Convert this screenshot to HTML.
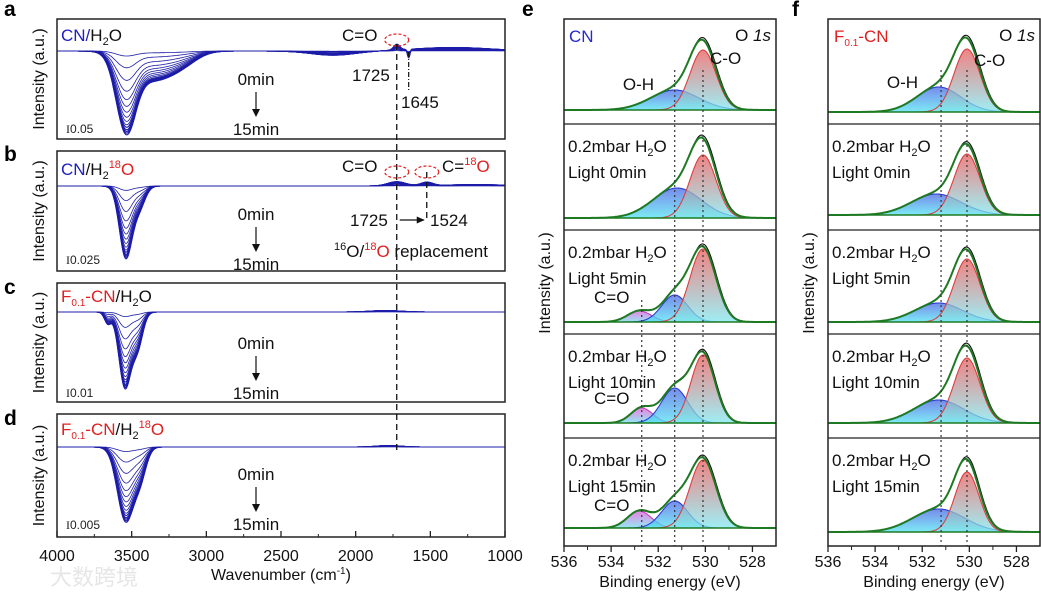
<!DOCTYPE html>
<html><head><meta charset="utf-8"><style>
html,body{margin:0;padding:0;background:#fff}
svg{display:block;font-family:"Liberation Sans","Noto Sans CJK SC",sans-serif}
.t{font-size:17px;fill:#111}
.tk{font-size:16px;fill:#111}
.pl{font-size:21px;font-weight:bold;fill:#000}
.sb{font-size:12px;fill:#222}
</style></head><body>
<svg id="fig" width="1041" height="592" viewBox="0 0 1041 592">
<defs>
<linearGradient id="gRed" x1="0" y1="0" x2="0" y2="1"><stop offset="0" stop-color="#ec5a5a"/><stop offset="1" stop-color="#7ee8f0"/></linearGradient>
<linearGradient id="gBlue" x1="0" y1="0" x2="0" y2="1"><stop offset="0" stop-color="#4a64e6"/><stop offset="1" stop-color="#50e4f2"/></linearGradient>
<linearGradient id="gMag" x1="0" y1="0" x2="0" y2="1"><stop offset="0" stop-color="#e45ad8"/><stop offset="1" stop-color="#70e0f0"/></linearGradient>
</defs>
<g id="ftir"></g>
<g id="xps"></g>
<g id="txt">
<text class="pl" x="4" y="16">a</text>
<text class="pl" x="4" y="161">b</text>
<text class="pl" x="4" y="294">c</text>
<text class="pl" x="4" y="425">d</text>
<text class="pl" x="522" y="16">e</text>
<text class="pl" x="792" y="16">f</text>

<text class="t" x="61" y="41"><tspan fill="#2020c0">CN/</tspan>H<tspan font-size="11" dy="4">2</tspan><tspan dy="-4">O</tspan></text>
<text class="t" x="61" y="175"><tspan fill="#2020c0">CN</tspan>/H<tspan font-size="11" dy="4">2</tspan><tspan font-size="11" dy="-11" fill="#e02020">18</tspan><tspan dy="7" fill="#e02020">O</tspan></text>
<text class="t" x="61" y="302"><tspan fill="#e02020">F</tspan><tspan font-size="10" dy="4" fill="#e02020">0.1</tspan><tspan dy="-4" fill="#e02020">-CN</tspan>/H<tspan font-size="11" dy="4">2</tspan><tspan dy="-4">O</tspan></text>
<text class="t" x="61" y="435"><tspan fill="#e02020">F</tspan><tspan font-size="10" dy="4" fill="#e02020">0.1</tspan><tspan dy="-4" fill="#e02020">-CN</tspan>/H<tspan font-size="11" dy="4">2</tspan><tspan font-size="11" dy="-11" fill="#e02020">18</tspan><tspan dy="7" fill="#e02020">O</tspan></text>

<text class="t" x="342" y="41">C=O</text>
<text class="t" x="352" y="81">1725</text>
<text class="t" x="401" y="108">1645</text>
<text class="t" x="342" y="172">C=O</text>
<text class="t" x="442" y="172">C=<tspan font-size="11" dy="-7" fill="#e02020">18</tspan><tspan dy="7" fill="#e02020">O</tspan></text>
<text class="t" x="350" y="226">1725</text>
<text class="t" x="430" y="226">1524</text>
<text class="t" x="334" y="257"><tspan font-size="11" dy="-7">16</tspan><tspan dy="7">O/</tspan><tspan font-size="11" dy="-7" fill="#e02020">18</tspan><tspan dy="7" fill="#e02020">O</tspan> replacement</text>

<text class="sb" x="66" y="133"><tspan font-family="Liberation Serif">I</tspan>0.05</text>
<text class="sb" x="66" y="264"><tspan font-family="Liberation Serif">I</tspan>0.025</text>
<text class="sb" x="66" y="397"><tspan font-family="Liberation Serif">I</tspan>0.01</text>
<text class="sb" x="66" y="529"><tspan font-family="Liberation Serif">I</tspan>0.005</text>

<text class="tk" x="281" y="580" text-anchor="middle">Wavenumber (cm<tspan font-size="10" dy="-6">-1</tspan><tspan dy="6">)</tspan></text>
<text class="tk" x="670" y="587" text-anchor="middle">Binding energy (eV)</text>
<text class="tk" x="934" y="587" text-anchor="middle">Binding energy (eV)</text>
<text class="tk" transform="translate(550,283) rotate(-90)" text-anchor="middle">Intensity (a.u.)</text>
<text class="tk" transform="translate(814,283) rotate(-90)" text-anchor="middle">Intensity (a.u.)</text>
<text x="50" y="585" font-size="22" fill="#e6e6e6" font-family="Noto Sans CJK SC,sans-serif">大数跨境</text>
</g>
</svg>
<script>
// ===== FTIR data =====
const wnMin = 1000, wnMax = 4000;
const ftirTicks = [4000, 3500, 3000, 2500, 2000, 1500, 1000];
const curveFactors = [0.06, 0.2, 0.35, 0.48, 0.58, 0.66, 0.73, 0.79, 0.84, 0.88, 0.91, 0.94, 0.96, 0.98, 1.0];
const compsA = [[3540, 65, -1], [3360, 140, -0.4], [3150, 100, -0.12], [2150, 150, -0.06], [1725, 20, 0.08], [1645, 8, -0.12], [1350, 250, 0.05]];
const compsB = [[3540, 42, -1], [3450, 40, -0.3], [1725, 60, 0.06], [1524, 40, 0.05], [1200, 200, 0.02]];
const compsC = [[3545, 40, -1], [3460, 35, -0.45], [3660, 22, -0.15], [1800, 100, 0.02]];
const compsD = [[3540, 55, -1], [3440, 40, -0.35], [1780, 80, 0.02]];
const ftirDepth = [71, 71, 75, 74];
const ftirComps = [compsA, compsB, compsC, compsD];
const ftirTexts = [["0min", "15min"], ["0min", "15min"], ["0min", "15min"], ["0min", "15min"]];

// ===== XPS data =====
const beMin = 527, beMax = 536;
const xpsTicks = [536, 534, 532, 530, 528];
const xpsE = [
  [[530.1, 1.3, 60], [531.3, 2.4, 20]],
  [[530.1, 1.3, 63], [531.2, 2.4, 30]],
  [[530.1, 1.3, 73], [531.3, 1.3, 27], [532.8, 1.2, 11]],
  [[530.1, 1.2, 68], [531.3, 1.3, 35], [532.7, 1.1, 15]],
  [[530.1, 1.3, 68], [531.3, 1.3, 27], [532.8, 1.2, 17]]
];
const xpsF = [
  [[530.1, 1.3, 63], [531.3, 2.2, 25]],
  [[530.1, 1.3, 61], [531.4, 2.5, 21]],
  [[530.1, 1.3, 63], [531.3, 2.4, 19]],
  [[530.1, 1.3, 65], [531.3, 2.5, 23]],
  [[530.1, 1.2, 60], [531.3, 2.6, 23]]
];
const xpsEDots = [531.3, 530.1, 532.7];
const xpsFDots = [531.2, 530.1];
const rowLabels = ["", "Light 0min", "Light 5min", "Light 10min", "Light 15min"];

const NS = "http://www.w3.org/2000/svg";
function mk(tag, attrs, parent) {
  const e = document.createElementNS(NS, tag);
  for (const k in attrs) e.setAttribute(k, attrs[k]);
  parent.appendChild(e); return e;
}
function txt(parent, x, y, s, cls, anchor) {
  const t = mk("text", {x: x, y: y, class: cls || "t"}, parent);
  if (anchor) t.setAttribute("text-anchor", anchor);
  t.textContent = s; return t;
}

const fg = document.getElementById("ftir");
const fx0 = 57, fx1 = 505;
const xL = w => fx0 + (wnMax - w) / (wnMax - wnMin) * (fx1 - fx0);
const ftirBoxes = [[19, 139, 51], [151, 271, 186], [283, 402, 312], [414, 537, 447]];
ftirBoxes.forEach((b, i) => {
  const [top, bot, base] = b;
  const g = mk("g", {}, fg);
  
  
  const lab = mk("text", {class: "tk", transform: `translate(44,${(top + bot) / 2}) rotate(-90)`, "text-anchor": "middle"}, g);
  lab.textContent = "Intensity (a.u.)";
  
  
  const comps = ftirComps[i];
  curveFactors.forEach((f, ci) => {
    let d = "";
    for (let w = wnMax; w >= wnMin; w -= 4) {
      let v = 0;
      comps.forEach(c => { v += c[2] * Math.exp(-0.5 * ((w - c[0]) / c[1]) ** 2); });
      const y = base - v * f * ftirDepth[i];
      d += (d ? "L" : "M") + xL(w).toFixed(1) + "," + y.toFixed(1);
    }
    const p = mk("path", {d: d, fill: "none", stroke: "#1c1ca8", "stroke-width": ci > 9 ? 1.1 : 0.8}, g);
    
    
  });
  const r = mk("rect", {x: fx0, y: top, width: fx1 - fx0, height: bot - top, fill: "none", stroke: "#222", "stroke-width": 1.5}, g);
  
  
  const ay0 = top + (i === 1 ? 74 : 71), ay1 = ay0 + 27;
  txt(g, 256, ay0 - 5, ftirTexts[i][0], "t", "middle");
  mk("line", {x1: 256, y1: ay0 + 2, x2: 256, y2: ay1 - 2, stroke: "#111", "stroke-width": 1.2}, g);
  mk("path", {d: `M252,${ay1 - 8} L256,${ay1} L260,${ay1 - 8}Z`, fill: "#111"}, g);
  txt(g, 256, ay1 + 18, ftirTexts[i][1], "t", "middle");
});
ftirTicks.forEach(w => {
  mk("line", {x1: xL(w), y1: 537, x2: xL(w), y2: 531, stroke: "#222", "stroke-width": 1.3}, fg);
  const t = txt(fg, xL(w), 561, String(w), "tk", "middle");
  
  
});
for (let w = 3750; w > 1000; w -= 500) mk("line", {x1: xL(w), y1: 537, x2: xL(w), y2: 534, stroke: "#222", "stroke-width": 1}, fg);
mk("line", {x1: xL(1725), y1: 44, x2: xL(1725), y2: 450, stroke: "#111", "stroke-width": 1.3, "stroke-dasharray": "6,4"}, fg);
mk("line", {x1: xL(1645), y1: 52, x2: xL(1645), y2: 92, stroke: "#111", "stroke-width": 1.2, "stroke-dasharray": "5,2,1,2"}, fg);
mk("line", {x1: xL(1524), y1: 172, x2: xL(1524), y2: 222, stroke: "#111", "stroke-width": 1.3, "stroke-dasharray": "6,4"}, fg);
mk("line", {x1: xL(1725) + 3, y1: 220, x2: xL(1524) - 3, y2: 220, stroke: "#111", "stroke-width": 1.2}, fg);
mk("path", {d: `M${xL(1524) - 2},220 l-8,-3.5 l0,7z`, fill: "#111"}, fg);
[[1725, 40], [1725, 172], [1524, 172]].forEach((e, k) => {
  const el = mk("ellipse", {cx: xL(e[0]), cy: e[1], rx: 12, ry: 6, fill: "none", stroke: "#e02020", "stroke-width": 1.2, "stroke-dasharray": "3,2"}, fg);
  
  
});

const xg = document.getElementById("xps");
const rowTops = [19, 124, 230, 334, 438, 546];
const eBase = [110, 218, 322, 423, 528];
const fBase = [112, 215, 322, 423, 532];
function gauss(x, c) { const s = c[1] / 2.3548; return c[2] * Math.exp(-0.5 * ((x - c[0]) / s) ** 2); }
function xpsPanel(x0, x1, data, bases, dots, name, top1Label) {
  const xB = b => x0 + (beMax - b) / (beMax - beMin) * (x1 - x0);
  const g = mk("g", {}, xg);
  
  
  data.forEach((row, ri) => {
    const base = bases[ri];
    const fills = ["url(#gRed)", "url(#gBlue)", "url(#gMag)"];
    const strokes = ["#d84040", "#2a3ed0", "#c040c0"];
    [2, 1, 0].forEach(k => {
      if (!row[k]) return;
      let d = "";
      for (let b = beMax; b >= beMin; b -= 0.04) {
        const y = base - gauss(b, row[k]);
        d += (d ? "L" : "M") + xB(b).toFixed(1) + "," + y.toFixed(1);
      }
      const a = mk("path", {d: d + `L${x1},${base}L${x0},${base}Z`, fill: fills[k], "fill-opacity": 0.75, stroke: "none"}, g);
      
      
      mk("path", {d: d, fill: "none", stroke: strokes[k], "stroke-width": 1.1}, g);
    });
    mk("line", {x1: x0, y1: base, x2: x1, y2: base, stroke: "#1e7a22", "stroke-width": 1.5}, g);
    let env = "", dat = "";
    for (let b = beMax; b >= beMin; b -= 0.04) {
      let v = 0; row.forEach(c => v += gauss(b, c));
      env += (env ? "L" : "M") + xB(b).toFixed(1) + "," + (base - v).toFixed(1);
      let v2 = 0; row.forEach(c => v2 += gauss(b + 0.03, c));
      dat += (dat ? "L" : "M") + xB(b).toFixed(1) + "," + (base - v2 * 1.03).toFixed(1);
    }
    mk("path", {d: dat, fill: "none", stroke: "#111", "stroke-width": 1.1}, g);
    const ep = mk("path", {d: env, fill: "none", stroke: "#1e7a22", "stroke-width": 2}, g);
    
    
    if (ri > 0) {
      txt(g, x0 + 4, rowTops[ri] + 28, "", "t").innerHTML = '0.2mbar H<tspan font-size="11" dy="4">2</tspan><tspan dy="-4">O</tspan>';
      txt(g, x0 + 4, rowTops[ri] + 54, rowLabels[ri], "t");
    }
  });
  dots.forEach((b, k) => {
    mk("line", {x1: xB(b), y1: k === 2 ? 300 : 70, x2: xB(b), y2: 546, stroke: "#333", "stroke-width": 1.2, "stroke-dasharray": "2,3"}, g);
  });
  for (let i = 1; i < 5; i++) mk("line", {x1: x0, y1: rowTops[i], x2: x1, y2: rowTops[i], stroke: "#222", "stroke-width": 1.3}, g);
  const fr = mk("rect", {x: x0, y: 19, width: x1 - x0, height: 546 - 19, fill: "none", stroke: "#222", "stroke-width": 1.5}, g);
  
  
  xpsTicks.forEach(b => {
    mk("line", {x1: xB(b), y1: 546, x2: xB(b), y2: 552, stroke: "#222", "stroke-width": 1.3}, g);
    const t = txt(g, xB(b), 567, String(b), "tk", "middle");
    
    
  });
  for (let b = 535; b > 527; b -= 2) mk("line", {x1: xB(b), y1: 546, x2: xB(b), y2: 550, stroke: "#222", "stroke-width": 1}, g);
  txt(g, x1 - 5, 41, "", "t", "end").innerHTML = 'O <tspan font-style="italic">1s</tspan>';
  txt(g, xB(529.8), top1Label[1], "C-O", "t");
  txt(g, xB(533.5), top1Label[2], "O-H", "t");
  return xB;
}
const xE = xpsPanel(564, 776, xpsE, eBase, xpsEDots, "xps-panel-e", [0, 64, 90]);
const xF = xpsPanel(828, 1040, xpsF, fBase, xpsFDots, "xps-panel-f", [0, 66, 88]);
const cnLab = txt(xg, 569, 42, "CN", "t");
cnLab.style.fill = "#2828d0";


txt(xg, 834, 42, "", "t").innerHTML = '<tspan fill="#e02020">F</tspan><tspan font-size="10" dy="4" fill="#e02020">0.1</tspan><tspan dy="-4" fill="#e02020">-CN</tspan>';
[303, 404, 511].forEach(y => txt(xg, 594, y, "C=O", "t"));
</script>
</body></html>
